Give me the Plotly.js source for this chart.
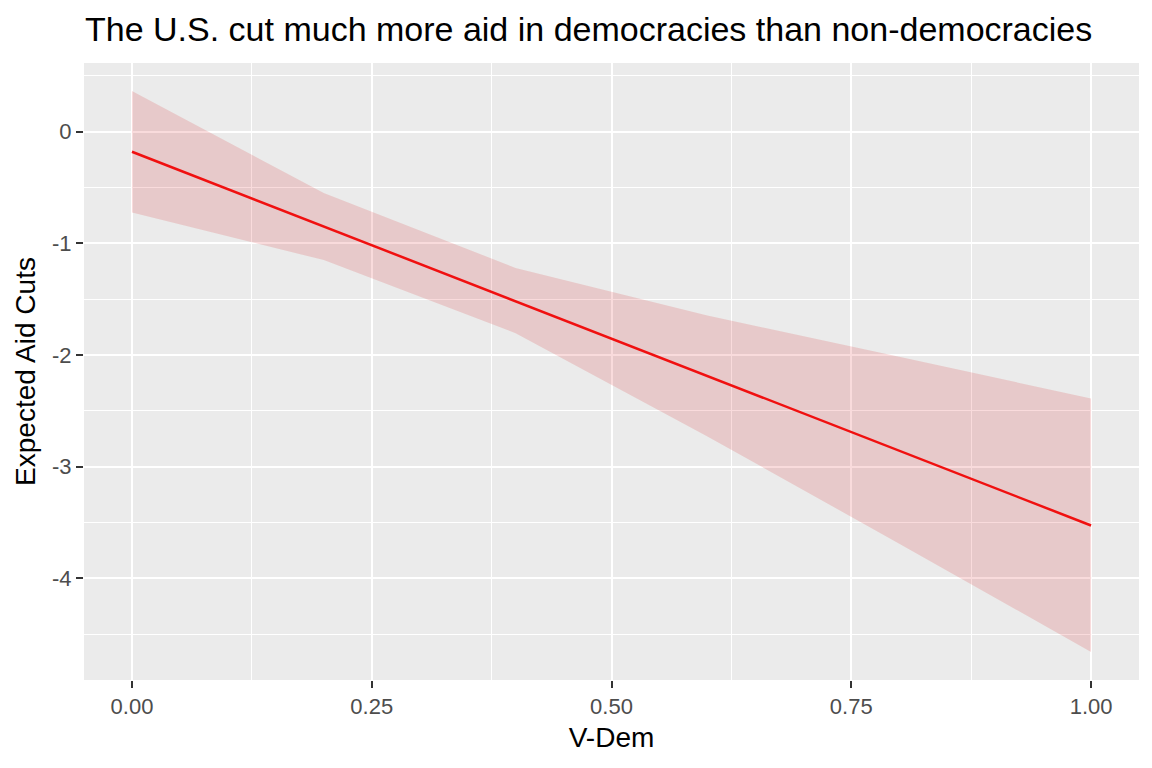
<!DOCTYPE html>
<html>
<head>
<meta charset="utf-8">
<script src="https://cdn.plot.ly/plotly-3.0.1.min.js"></script>
<style>
  html, body { margin: 0; padding: 0; background: #fff; }
  #plot { width: 1152px; height: 768px; }
</style>
</head>
<body>
<div id="plot"></div>
<script>
  // predicted values
  var vdem = [0, 0.2, 0.4, 0.6, 0.8, 1.0];
  var predicted = [-0.18, -0.849, -1.519, -2.188, -2.858, -3.527];
  var ciLow = [-0.725, -1.15, -1.805, -2.73, -3.69, -4.66];
  var ciHigh = [0.364, -0.55, -1.22, -1.647, -2.015, -2.39];

  var xTickVals = [0, 0.25, 0.5, 0.75, 1];
  var xTickText = ['0.00', '0.25', '0.50', '0.75', '1.00'];
  var yTickVals = [0, -1, -2, -3, -4];
  var yTickText = ['0', '-1', '-2', '-3', '-4'];

  var font = 'Liberation Sans, Arial, sans-serif';

  var traces = [
    {
      x: vdem, y: ciLow, type: 'scatter', mode: 'lines',
      line: { width: 0, color: 'rgba(0,0,0,0)' },
      hoverinfo: 'skip', showlegend: false
    },
    {
      x: vdem, y: ciHigh, type: 'scatter', mode: 'lines',
      fill: 'tonexty', fillcolor: 'rgba(215,0,10,0.14)',
      line: { width: 0, color: 'rgba(0,0,0,0)' },
      hoverinfo: 'skip', showlegend: false
    },
    {
      x: vdem, y: predicted, type: 'scatter', mode: 'lines',
      line: { color: '#F01010', width: 2.5 },
      showlegend: false
    }
  ];

  var axisCommon = {
    showline: false,
    zeroline: false,
    gridcolor: '#FFFFFF',
    gridwidth: 2,
    ticks: 'outside',
    ticklen: 7,
    tickwidth: 2,
    tickcolor: '#333333',
    tickfont: { family: font, size: 22, color: '#4D4D4D' }
  };

  var layout = {
    width: 1152,
    height: 768,
    paper_bgcolor: '#FFFFFF',
    plot_bgcolor: '#EBEBEB',
    margin: { l: 84, r: 13, t: 63, b: 88 },
    showlegend: false,
    title: {
      text: 'The U.S. cut much more aid in democracies than non-democracies',
      font: { family: font, size: 34, color: '#000000' },
      xref: 'container', x: 85 / 1152, xanchor: 'left',
      yref: 'container', y: 1 - 29 / 768, yanchor: 'middle'
    },
    xaxis: Object.assign({}, axisCommon, {
      range: [-0.05, 1.05],
      tickmode: 'array',
      tickvals: xTickVals,
      ticktext: xTickText,
      minor: { dtick: 0.125, tick0: 0, showgrid: true, gridcolor: '#FFFFFF', gridwidth: 1, ticks: '' },
      title: { text: 'V-Dem', font: { family: font, size: 28, color: '#000000' }, standoff: 8 }
    }),
    yaxis: Object.assign({}, axisCommon, {
      range: [-4.911, 0.615],
      tickmode: 'array',
      tickvals: yTickVals,
      ticktext: yTickText,
      minor: { dtick: 0.5, tick0: 0, showgrid: true, gridcolor: '#FFFFFF', gridwidth: 1, ticks: '' },
      title: { text: 'Expected Aid Cuts', font: { family: font, size: 28, color: '#000000' }, standoff: 8 }
    })
  };

  Plotly.newPlot('plot', traces, layout, { displayModeBar: false, staticPlot: true });
</script>
</body>
</html>
